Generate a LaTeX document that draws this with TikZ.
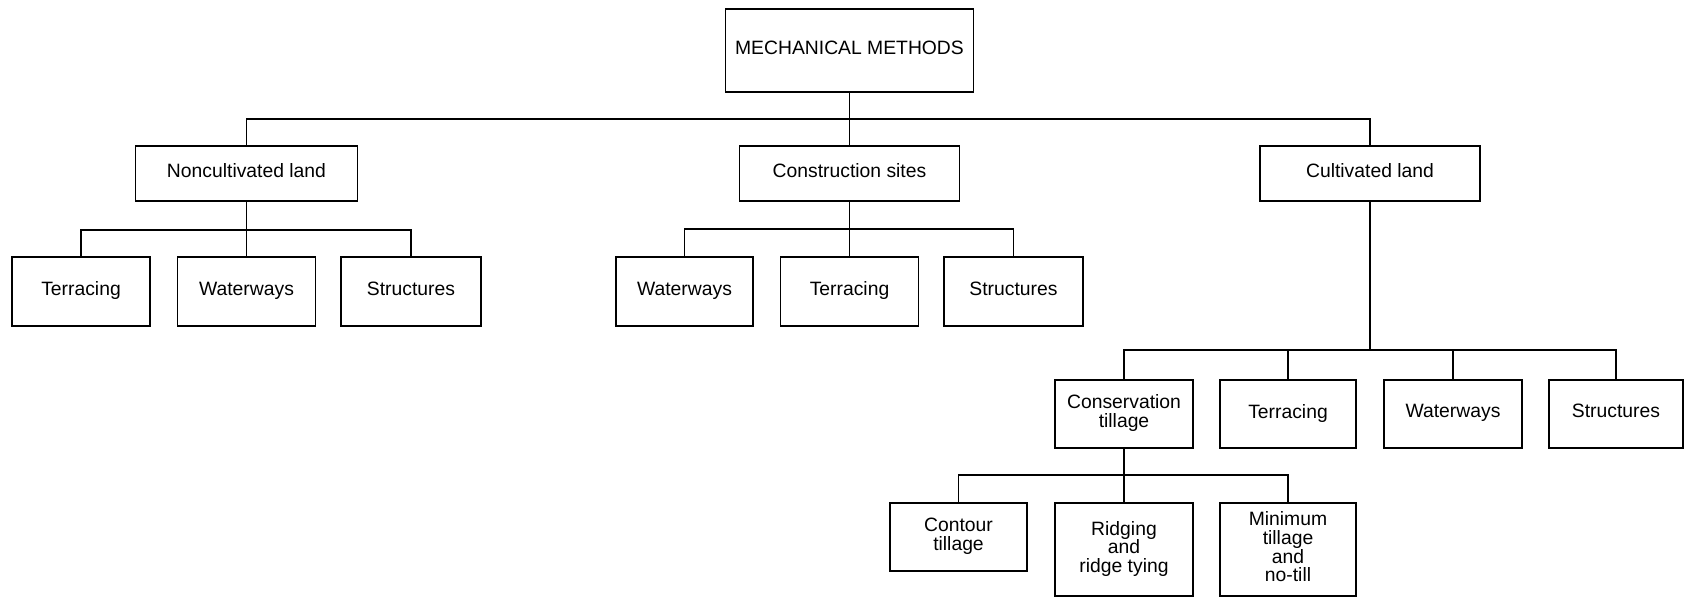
\documentclass[tikz,border=0pt]{standalone}
\usepackage{fontspec}
\setmainfont{Liberation Sans}
\usetikzlibrary{math}

\tikzset{
box/.style 2 args={draw, line width=1pt, align=center, inner sep=0pt,
  minimum width=#1*0.02cm, minimum height=#2*0.02cm,
  font=\fontsize{11}{10.6}\selectfont,
  execute at begin node=\strut, execute at end node=\strut},
link/.style={line width=1pt}
}

\begin{document}
\begin{tikzpicture}[x=0.02cm,y=-0.02cm]

\tikzmath{
\ya = 291.5; %second row
\yb = 414; %third row
}

\useasboundingbox (0,0) rectangle (1684,598);

%top:
\node[box={248}{83}] (mech) at (849.5,50.5) {MECHANICAL METHODS};

%first row:
\node[box={222}{55}] (noncult) at (246.5,173.5) {Noncultivated land};
\node[box={220}{55}] (constr) at (849.5,173.5) {Construction sites};
\node[box={220}{55}] (cult) at (1370,173.5) {Cultivated land};

%second row:
\node[box={138}{69}] (nterr) at (81,\ya) {Terracing};
\node[box={138}{69}] (nwater) at (246.5,\ya) {Waterways};
\node[box={140}{69}] (nstruct) at (411,\ya) {Structures};
\node[box={137}{69}] (cwater) at (684.5,\ya) {Waterways};
\node[box={138}{69}] (cterr) at (849.5,\ya) {Terracing};
\node[box={139}{69}] (cstruct) at (1013.5,\ya) {Structures};

%third row:
\node[box={138}{68}] (constill) at (1124,\yb) {Conservation\\tillage};
\node[box={136}{68}] (kterr) at (1288,\yb) {Terracing};
\node[box={138}{68}] (kwater) at (1453,\yb) {Waterways};
\node[box={134}{68}] (kstruct) at (1616,\yb) {Structures};

%fourth row:
\node[box={137}{68}] (contour) at (958.5,537) {Contour\\tillage};
\node[box={138}{93}] (ridging) at (1124,549.5) {Ridging\\and\\ridge tying};
\node[box={136}{93}] (mintill) at (1288,549.5) {Minimum\\tillage\\and\\no-till};

%bars:
\coordinate (mbar) at (849.5,119);
\coordinate (nbar) at (246.5,230);
\coordinate (cbar) at (849.5,229);
\coordinate (kbar) at (1370,350);
\coordinate (tbar) at (1124,475);

%connectors:
\draw[link] (mech.south) -- (constr.north);
\draw[link] (noncult.north) |- (mbar) -| (cult.north);

\draw[link] (noncult.south) -- (nwater.north);
\draw[link] (nterr.north) |- (nbar) -| (nstruct.north);

\draw[link] (constr.south) -- (cterr.north);
\draw[link] (cwater.north) |- (cbar) -| (cstruct.north);

\draw[link] (cult.south) -- (kbar);
\draw[link] (constill.north) |- (kbar) -| (kstruct.north);
\draw[link] (kbar -| kterr.north) -- (kterr.north);
\draw[link] (kbar -| kwater.north) -- (kwater.north);

\draw[link] (constill.south) -- (ridging.north);
\draw[link] (contour.north) |- (tbar) -| (mintill.north);

\end{tikzpicture}
\end{document}
